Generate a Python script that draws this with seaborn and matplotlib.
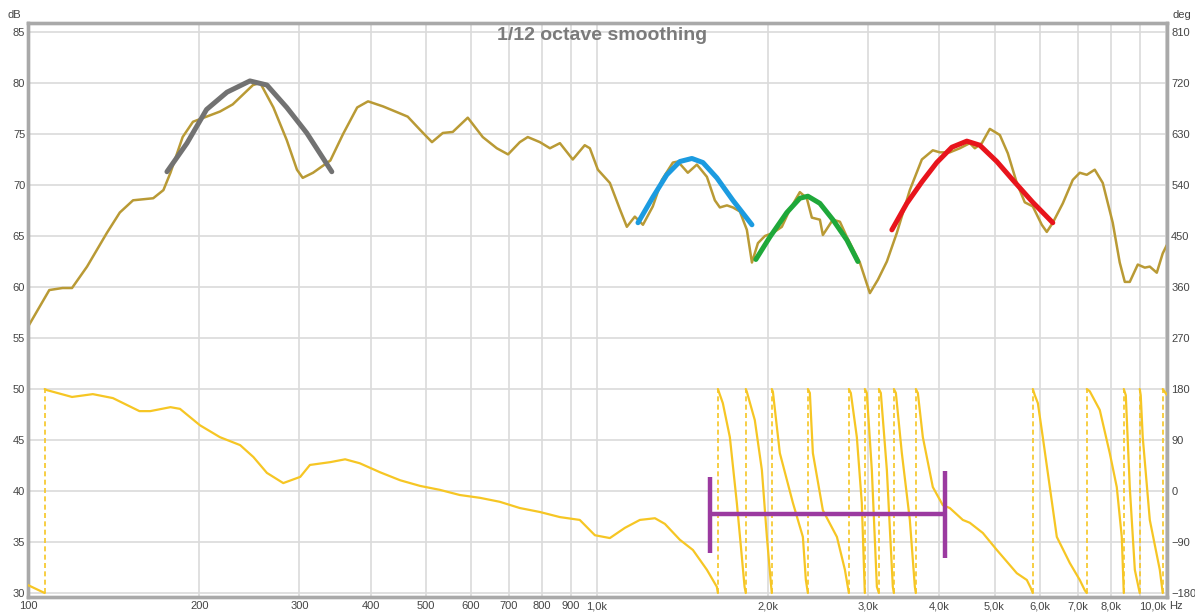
import matplotlib
matplotlib.use("Agg")
import matplotlib.pyplot as plt
import pandas as pd
import seaborn as sns

# ---- measured magnitude (1/12 octave smoothed) ----
mag_hz = [100, 109, 115, 119.5, 127, 137.6, 145, 153, 166, 173, 178, 187, 195, 206, 217.5,
          229, 248.6, 256, 270, 285, 297, 304, 317, 340, 358, 379, 396, 421, 447, 465, 489,
          513, 536, 558, 593, 630, 667, 698, 732, 756, 794, 827, 861, 907, 952, 972, 1004,
          1054, 1098, 1129, 1166, 1205, 1254, 1301, 1360, 1388, 1445, 1499, 1561, 1612, 1645,
          1693, 1734, 1784, 1835, 1873, 1919, 1974, 2039, 2114, 2184, 2274, 2339, 2387, 2466,
          2496, 2599, 2674, 2751, 2899, 3019, 3118, 3234, 3367, 3549, 3726, 3895, 4007, 4172,
          4345, 4524, 4617, 4750, 4906, 5109, 5277, 5472, 5652, 5838, 6054, 6178, 6330, 6592,
          6864, 7061, 7264, 7502, 7749, 8068, 8300, 8472, 8644, 8929, 9187, 9374, 9643, 9878,
          10041]
mag_db = [56.1, 59.7, 59.9, 59.9, 62.0, 65.3, 67.3, 68.5, 68.7, 69.5, 71.2, 74.7, 76.2, 76.7, 77.2,
          77.9, 79.8, 80.0, 77.6, 74.4, 71.5, 70.7, 71.2, 72.4, 75.0, 77.6, 78.2, 77.7, 77.1, 76.7, 75.4,
          74.2, 75.1, 75.2, 76.6, 74.7, 73.6, 73.0, 74.2, 74.7, 74.2, 73.6, 74.1, 72.5, 73.9, 73.6, 71.5,
          70.2, 67.6, 65.9, 66.9, 66.1, 67.9, 70.5, 72.2, 72.3, 71.2, 72.0, 70.8, 68.5, 67.8,
          68.0, 67.8, 67.4, 65.6, 62.4, 64.3, 65.0, 65.3, 65.9, 67.6, 69.3, 68.7, 66.8, 66.6,
          65.1, 66.6, 66.4, 64.9, 62.4, 59.4, 60.7, 62.5, 65.3, 69.5, 72.5, 73.4, 73.2, 73.2,
          73.6, 74.1, 73.6, 74.1, 75.5, 74.9, 73.1, 70.2, 68.3, 67.9, 66.1, 65.4, 66.3, 68.2,
          70.5, 71.2, 71.0, 71.5, 70.2, 66.3, 62.4, 60.5, 60.5, 62.2, 61.9, 62.0, 61.4, 63.3,
          64.1]

# ---- wrapped phase (degrees); a rise from -180 to 180 marks a wrap ----
phase_hz = [100, 107,
            107, 108, 119.5, 130, 141, 157, 164, 178, 185, 200.6, 217.5, 236, 249, 263, 281, 301,
            313, 340, 361, 383, 416, 451, 489, 530, 574, 623, 675, 732, 794, 861, 933, 992, 1054,
            1120, 1190, 1265, 1317, 1399, 1475, 1561, 1625, 1632,
            1632, 1665, 1713, 1762, 1798, 1818, 1827,
            1827, 1835, 1895, 1950, 1990, 2022, 2030,
            2030, 2039, 2097, 2211, 2302, 2330, 2349,
            2349, 2368, 2397, 2496, 2642, 2729, 2773,
            2773, 2795, 2864, 2922, 2958,
            2958, 2982, 3043, 3106, 3131,
            3131, 3156, 3234, 3313, 3327,
            3327, 3354, 3436, 3549, 3622, 3636,
            3636, 3666, 3741, 3895, 4056, 4172, 4398, 4524, 4769, 5047, 5472, 5699, 5790, 5838,
            5838, 5886, 5959, 6079, 6254, 6434, 6781, 7061, 7204, 7264,
            7264, 7352, 7656, 7971, 8201, 8369, 8437,
            8437, 8506, 8644, 8823, 9000,
            9000, 9036, 9110, 9374, 9761, 9878,
            9878, 10040]
phase_deg = [-166, -180,
             180, 178, 166, 171, 164, 141, 141, 148, 145, 116, 95, 81, 60, 32, 14, 25,
             46, 51, 56, 49, 33, 19, 9, 2, -7, -12, -19, -30, -37, -46, -51, -78, -83,
             -65, -51, -48, -58, -86, -104, -139, -169, -180,
             180, 155, 95, -21, -116, -169, -180,
             180, 175, 125, 37, -81, -162, -180,
             180, 175, 67, -21, -81, -157, -180,
             180, 173, 67, -34, -81, -139, -180,
             180, 173, 95, -21, -180,
             180, 173, 37, -169, -180,
             180, 173, 37, -169, -180,
             180, 173, 67, -51, -169, -180,
             180, 173, 95, 7, -25, -30, -51, -56, -74, -104, -145, -157, -171, -180,
             180, 169, 155, 95, 7, -81, -127, -157, -175, -180,
             180, 176, 143, 67, 7, -81, -180,
             180, 169, 7, -139, -180,
             180, 169, 95, -51, -139, -180,
             180, 170]

# ---- fitted resonance arcs ----
grey_hz = [175.5, 190.3, 206, 223.8, 245.5, 263, 285, 309, 342]
grey_db = [71.3, 74.1, 77.4, 79.1, 80.2, 79.8, 77.6, 75.1, 71.3]
blue_hz = [1181, 1254, 1327, 1399, 1469, 1536, 1625, 1734, 1873]
blue_db = [66.3, 68.8, 71.0, 72.3, 72.6, 72.2, 70.7, 68.5, 66.1]
green_hz = [1903, 2014, 2157, 2274, 2349, 2466, 2599, 2751, 2876]
green_db = [62.7, 64.9, 67.3, 68.7, 68.9, 68.2, 66.6, 64.6, 62.5]
red_hz = [3300, 3506, 3726, 3958, 4207, 4470, 4711, 5047, 5383, 5838, 6330]
red_db = [65.6, 68.2, 70.3, 72.2, 73.7, 74.3, 73.9, 72.3, 70.5, 68.3, 66.3]

# ---- marked band (phase scale) ----
band_hz = [1580, 4089]
band_deg = -40.5
band_left_deg = [-109, 25]
band_right_deg = [-118, 35]

# ---- axes ticks ----
freq_ticks = [100, 200, 300, 400, 500, 600, 700, 800, 900,
              1000, 2000, 3000, 4000, 5000, 6000, 7000, 8000, 9000, 10000]
freq_labels = ["100", "200", "300", "400", "500", "600", "700", "800", "900",
               "1,0k", "2,0k", "3,0k", "4,0k", "5,0k", "6,0k", "7,0k", "8,0k", "", "10,0k"]
db_ticks = list(range(30, 90, 5))
deg_ticks = list(range(-180, 811, 90))

MAG = "#b99a35"
PHASE = "#f6c624"
GRID = "#dadada"
FRAME = "#a9a9a9"
TXT = "#444444"
TICK_FONT = "Liberation Sans"

sns.set_theme(style="white")
plt.rcParams["font.family"] = ["Liberation Sans", "DejaVu Sans"]

W, H = 1195, 614
fig = plt.figure(figsize=(W / 100, H / 100), dpi=100)
ax = fig.add_axes([28 / W, 17 / H, 1139 / W, 574 / H])
ax.set_xscale("log")
ax.set_xlim(100, 10050)
ax.set_ylim(29.61, 85.88)

ax2 = ax.twinx()
ax2.set_ylim(-187.0, 825.9)

# magnitude
sns.lineplot(x=mag_hz, y=mag_db, ax=ax, color=MAG, lw=1.8, estimator=None, sort=False, zorder=3)

# fitted arcs
for hz, db, col in [(grey_hz, grey_db, "#727272"), (blue_hz, blue_db, "#1c9be0"),
                    (green_hz, green_db, "#1fa83a"), (red_hz, red_db, "#e8141c")]:
    sns.lineplot(x=hz, y=db, ax=ax, color=col, lw=3.6, estimator=None, sort=False,
                 zorder=4, solid_capstyle="round", solid_joinstyle="round")

# phase, split at wraps
ph = pd.DataFrame({"hz": phase_hz, "deg": phase_deg})
jump = ph["deg"].diff() > 180
ph["seg"] = jump.cumsum()
wraps = ph.loc[jump, "hz"].tolist()
for _, d in ph.groupby("seg"):
    sns.lineplot(data=d, x="hz", y="deg", ax=ax2, color=PHASE, lw=1.6,
                 estimator=None, sort=False, zorder=3)
ax2.vlines(wraps, -180, 180, colors=PHASE, linestyles=(0, (3, 2)), lw=1.2, zorder=2)

# marked band
ax2.hlines(band_deg, band_hz[0], band_hz[1], colors="#9b3aa0", lw=3.2, zorder=6)
ax2.vlines(band_hz[0], *band_left_deg, colors="#9b3aa0", lw=3.2, zorder=6)
ax2.vlines(band_hz[1], *band_right_deg, colors="#9b3aa0", lw=3.2, zorder=6)

# ticks and grid
ax.xaxis.set_major_locator(matplotlib.ticker.FixedLocator(freq_ticks))
ax.xaxis.set_minor_locator(matplotlib.ticker.NullLocator())
ax.set_xticklabels(freq_labels)
ax.set_yticks(db_ticks)
ax2.set_yticks(deg_ticks)
ax.grid(True, color=GRID, lw=1.2)
ax2.grid(False)
ax.set_axisbelow(True)
ax.tick_params(axis="both", length=0, labelsize=8, colors=TXT, pad=2)
ax.tick_params(axis="x", pad=3)
ax2.tick_params(axis="y", length=0, labelsize=8, colors=TXT, pad=3)
ax.get_xticklabels()[-1].set_horizontalalignment("right")
ax.set_xlabel("")
ax.set_ylabel("")
ax2.set_xlabel("")
ax2.set_ylabel("")
for a in (ax, ax2):
    for s in a.spines.values():
        s.set_color(FRAME)
        s.set_linewidth(2.4)

fig.text(14 / W, 1 - 15 / H, "dB", fontsize=8, color=TXT, ha="center", va="center")
fig.text(1182 / W, 1 - 15 / H, "deg", fontsize=8, color=TXT, ha="center", va="center")
fig.text(1169 / W, 1 - 606 / H, "Hz", fontsize=8, color=TXT, ha="left", va="center")
fig.text(602 / W, 1 - 36 / H, "1/12 octave smoothing", fontsize=14, fontweight="bold",
         color="#7b7b7b", ha="center", va="center", family="Liberation Sans")

fig.savefig("out.png", dpi=100)
